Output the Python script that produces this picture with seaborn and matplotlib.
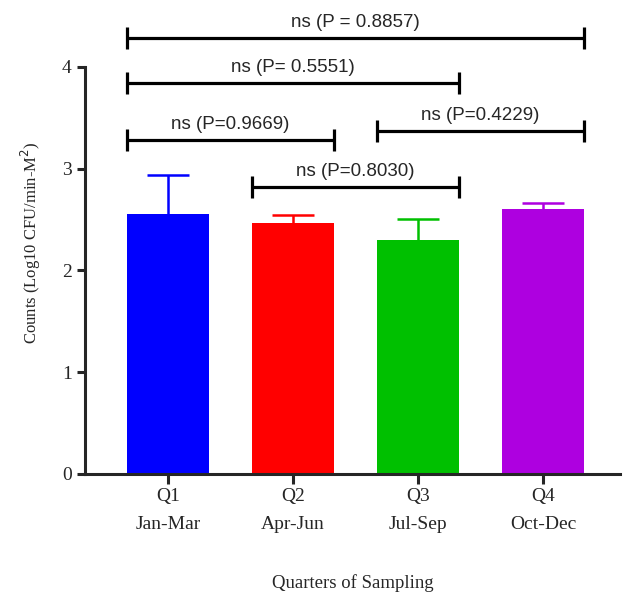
import numpy as np
import pandas as pd
import matplotlib
matplotlib.use('Agg')
import matplotlib.pyplot as plt
import seaborn as sns

# data
quarters = ['Q1\nJan-Mar', 'Q2\nApr-Jun', 'Q3\nJul-Sep', 'Q4\nOct-Dec']
means = [2.55, 2.47, 2.30, 2.60]
sem = [0.39, 0.075, 0.205, 0.06]
bar_colors = ['#0000FF', '#FF0000', '#00C000', '#AE00E0']

# significance brackets: (left bar, right bar, height, label)
pair_left = [0, 0, 0, 2, 1]
pair_right = [3, 2, 1, 3, 2]
pair_level = [4.285, 3.84, 3.28, 3.37, 2.82]
pair_text = ['ns (P = 0.8857)', 'ns (P= 0.5551)', 'ns (P=0.9669)',
             'ns (P=0.4229)', 'ns (P=0.8030)']

sns.set_style('ticks')
plt.rcParams['font.family'] = ['Liberation Serif', 'DejaVu Serif']

df = pd.DataFrame({'quarter': quarters, 'mean': means})
bar_w = 0.656

fig = plt.figure(figsize=(6.25, 6.0), dpi=100)
ax = fig.add_axes([0.136, 0.21, 0.856, 0.755])

sns.barplot(data=df, x='quarter', y='mean', hue='quarter', palette=bar_colors,
            saturation=1, width=bar_w, legend=False, ax=ax, linewidth=0)

# upper error bars only, coloured like the bars (drawn behind the bars)
for i, (m, e, c) in enumerate(zip(means, sem, bar_colors)):
    _, caps, _ = ax.errorbar(i, m, yerr=[[0], [e]], color=c, capsize=15,
                             elinewidth=1.8, capthick=1.8, zorder=0.5)
    caps[0].set_visible(False)  # hide the lower cap sitting on the bar top

# brackets
for a, b, lev, txt in zip(pair_left, pair_right, pair_level, pair_text):
    x0 = a - bar_w / 2
    x1 = b + bar_w / 2
    ax.plot([x0, x1], [lev, lev], color='black', lw=2.3, clip_on=False,
            solid_capstyle='butt')
    for xx in (x0, x1):
        ax.plot([xx, xx], [lev - 0.11, lev + 0.11], color='black', lw=2.3,
                clip_on=False, solid_capstyle='butt')
    ax.annotate(txt, xy=((x0 + x1) / 2, lev), xytext=(0, 5),
                textcoords='offset points', ha='center', va='bottom',
                fontsize=13.5, family=['Liberation Sans', 'DejaVu Sans'])

ax.set_xlim(-0.664, 3.616)
ax.set_ylim(0, 4.45)
ax.set_yticks([0, 1, 2, 3, 4])
ax.spines['left'].set_bounds(0, 4)
for s in ['left', 'bottom']:
    ax.spines[s].set_linewidth(2.2)
sns.despine(ax=ax)

ax.tick_params(axis='both', width=2.2, length=6, labelsize=14, direction='out')
ax.tick_params(axis='x', pad=3, length=7)
for lab in ax.get_xticklabels():
    lab.set_linespacing(1.85)

ax.set_ylabel('Counts (Log10 CFU/min-M$^2$)', fontsize=12)
ax.yaxis.set_label_coords(-0.079, 0.51)
ax.set_xlabel('Quarters of Sampling', fontsize=13.5, labelpad=30)

fig.savefig('out.png', dpi=100)
